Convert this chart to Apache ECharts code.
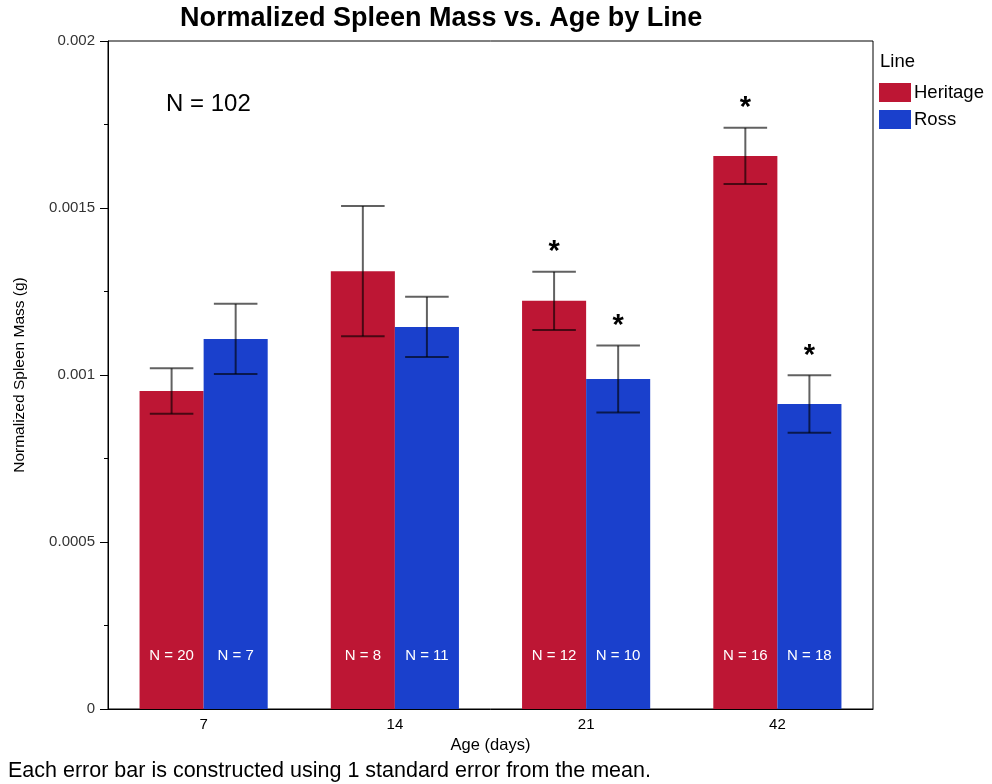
<!DOCTYPE html>
<html>
<head>
<meta charset="utf-8">
<script src="https://cdn.jsdelivr.net/npm/echarts@6/dist/echarts.min.js"></script>
<style>
  html, body { margin: 0; padding: 0; background: #fff; }
  #chart { width: 992px; height: 784px; }
</style>
</head>
<body>
<div id="chart"></div>
<script>
// Age groups (days)
const ages = ['7', '14', '21', '42'];

// Mean normalized spleen mass (g) and standard error, per line
const heritageMean = [0.000952, 0.001311, 0.001222, 0.001656];
const heritageSE   = [0.000068, 0.000195, 0.000087, 0.000084];
const rossMean     = [0.001108, 0.001144, 0.000988, 0.000913];
const rossSE       = [0.000105, 0.000090, 0.000100, 0.000086];

// Sample sizes and significance flags
const heritageN   = [20, 8, 12, 16];
const rossN       = [7, 11, 10, 18];
const heritageSig = [false, false, true, true];
const rossSig     = [false, false, true, true];

const yTicks = [0, 0.0005, 0.001, 0.0015, 0.002];

const RED = '#BD1634';
const BLUE = '#1A40CC';
const FONT = '"Liberation Sans", Arial, Helvetica, sans-serif';
const CAT_GAP = 0.33;

function errData(mean, se, sig) {
  return mean.map((m, i) => [i, m - se[i], m + se[i], sig[i] ? 1 : 0]);
}

// Draws the ±1 SE whisker (and a significance star) over one bar of each pair
function errRenderer(side) {
  return function (params, api) {
    const i = api.value(0);
    const lo = api.coord([i, api.value(1)]);
    const hi = api.coord([i, api.value(2)]);
    const band = api.size([1, 0])[0];
    const barW = band * (1 - CAT_GAP) / 2;
    const cx = lo[0] + side * barW / 2;
    const half = barW * 0.34;
    const ls = { stroke: 'rgba(0,0,0,0.62)', lineWidth: 2 };
    const children = [
      { type: 'line', shape: { x1: cx, y1: lo[1], x2: cx, y2: hi[1] }, style: ls },
      { type: 'line', shape: { x1: cx - half, y1: lo[1], x2: cx + half, y2: lo[1] }, style: ls },
      { type: 'line', shape: { x1: cx - half, y1: hi[1], x2: cx + half, y2: hi[1] }, style: ls }
    ];
    if (api.value(3)) {
      children.push({
        type: 'text',
        style: {
          text: '*', x: cx, y: hi[1] - 5,
          align: 'center', verticalAlign: 'bottom',
          font: 'bold 29px ' + FONT, fill: '#000'
        }
      });
    }
    return { type: 'group', children };
  };
}

const chart = echarts.init(document.getElementById('chart'));
chart.setOption({
  animation: false,
  backgroundColor: '#fff',
  textStyle: { fontFamily: FONT },
  grid: {
    left: 108, right: 119, top: 41, bottom: 75,
    show: true, borderColor: '#000', borderWidth: 1
  },
  legend: {
    orient: 'vertical', left: 879, top: 83, padding: 0,
    itemWidth: 32, itemHeight: 19, itemGap: 8,
    icon: 'rect',
    textStyle: { fontSize: 18.5, color: '#000', padding: [0, 0, 0, -2] },
    data: ['Heritage', 'Ross']
  },
  xAxis: {
    type: 'category',
    data: ages,
    name: 'Age (days)',
    nameLocation: 'middle',
    nameGap: 23,
    nameTextStyle: { fontSize: 16.5, color: '#000' },
    axisLine: { lineStyle: { color: '#000', width: 1 } },
    axisTick: { show: false },
    axisLabel: { fontSize: 15, color: '#000', margin: 8 }
  },
  yAxis: {
    type: 'value',
    min: 0, max: 0.002, interval: 0.0005,
    name: 'Normalized Spleen Mass (g)',
    nameLocation: 'middle',
    nameGap: 80,
    nameTextStyle: { fontSize: 15.5, color: '#000' },
    axisLine: { show: true, lineStyle: { color: '#000', width: 1 } },
    axisTick: { show: true, length: 8, lineStyle: { color: '#000' } },
    minorTick: { show: true, splitNumber: 2, length: 4, lineStyle: { color: '#000' } },
    splitLine: { show: false },
    axisLabel: {
      fontSize: 15, color: '#333', margin: 13,
      formatter: v => {
        const t = yTicks.find(x => Math.abs(x - v) < 1e-9);
        return t === 0 ? '0' : String(+v.toFixed(4));
      }
    }
  },
  series: [
    {
      name: 'Heritage', type: 'bar',
      data: heritageMean,
      barGap: '0%', barCategoryGap: (CAT_GAP * 100) + '%',
      itemStyle: { color: RED },
      label: {
        show: true, position: 'insideBottom', distance: 46,
        color: '#fff', fontSize: 15,
        formatter: p => 'N = ' + heritageN[p.dataIndex]
      }
    },
    {
      name: 'Ross', type: 'bar',
      data: rossMean,
      itemStyle: { color: BLUE },
      label: {
        show: true, position: 'insideBottom', distance: 46,
        color: '#fff', fontSize: 15,
        formatter: p => 'N = ' + rossN[p.dataIndex]
      }
    },
    {
      type: 'custom', name: 'Heritage SE',
      renderItem: errRenderer(-1),
      encode: { x: 0, y: [1, 2] },
      data: errData(heritageMean, heritageSE, heritageSig),
      z: 10
    },
    {
      type: 'custom', name: 'Ross SE',
      renderItem: errRenderer(1),
      encode: { x: 0, y: [1, 2] },
      data: errData(rossMean, rossSE, rossSig),
      z: 10
    }
  ],
  graphic: [
    {
      type: 'text', x: 180, y: 19,
      style: { text: 'Normalized Spleen Mass vs. Age by Line', font: 'bold 27px ' + FONT, fill: '#000', verticalAlign: 'middle' }
    },
    {
      type: 'text', x: 166, y: 104,
      style: { text: 'N = 102', font: '24px ' + FONT, fill: '#000', verticalAlign: 'middle' }
    },
    {
      type: 'text', x: 880, y: 62,
      style: { text: 'Line', font: '18.5px ' + FONT, fill: '#000', verticalAlign: 'middle' }
    },
    {
      type: 'text', x: 8, y: 771,
      style: { text: 'Each error bar is constructed using 1 standard error from the mean.', font: '21.5px ' + FONT, fill: '#000', verticalAlign: 'middle' }
    }
  ]
});
</script>
</body>
</html>
